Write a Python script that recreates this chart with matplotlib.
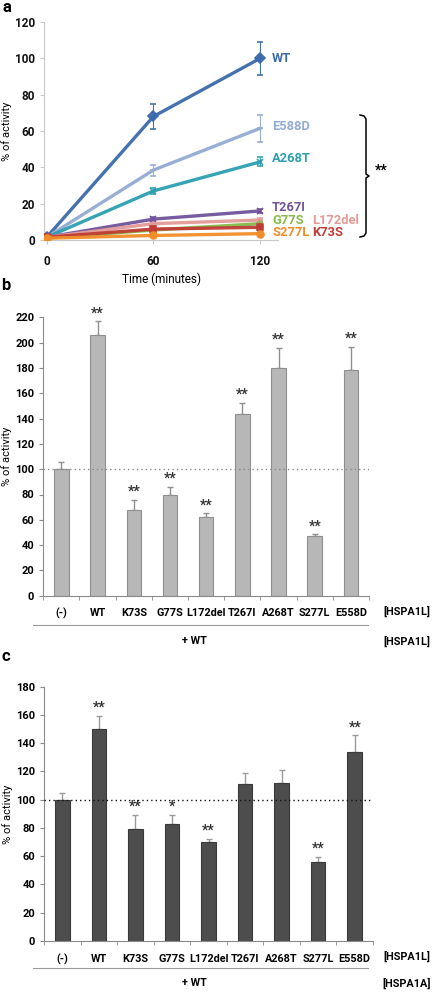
import matplotlib
matplotlib.use("Agg")
import matplotlib.pyplot as plt
import numpy as np

plt.rcParams.update({"font.family": ["Roboto", "DejaVu Sans"], "font.weight": "bold"})

W, H = 436, 992

# ---- panel a data ----
times = [0, 60, 120]
series = ["WT", "E588D", "A268T", "T267I", "L172del", "G77S", "K73S", "S277L"]
act = {
    "WT":      [1.5, 68, 100],
    "E588D":   [1.5, 38.5, 61.5],
    "A268T":   [1.5, 27, 43],
    "T267I":   [1.5, 11.5, 16],
    "L172del": [1.5, 9, 11],
    "G77S":    [1.0, 5.5, 9],
    "K73S":    [1.5, 6, 7],
    "S277L":   [1.0, 2.5, 3.5],
}
act_err = {
    "WT":      [0.5, 7, 9],
    "E588D":   [0.5, 3, 7.5],
    "A268T":   [0.5, 1.5, 2.5],
    "T267I":   [0.5, 1, 1],
    "L172del": [0.5, 1, 1],
    "G77S":    [0.5, 1, 1],
    "K73S":    [0.5, 1.5, 1.5],
    "S277L":   [0.5, 1, 1],
}
colors = {"WT": "#3b6aab", "E588D": "#93aad3", "A268T": "#2b9fb0", "T267I": "#70539c",
          "L172del": "#e29a96", "G77S": "#86ba4c", "K73S": "#bf3b35", "S277L": "#f28c28"}
markers = {"WT": "D", "E588D": "_", "A268T": "x", "T267I": "x", "L172del": "_",
           "G77S": "^", "K73S": "s", "S277L": "o"}

# ---- panels b / c data ----
cats = ["(-)", "WT", "K73S", "G77S", "L172del", "T267I", "A268T", "S277L", "E558D"]
b_vals = [100, 206, 68, 80, 62.5, 143.5, 180, 47, 178.5]
b_err = [6, 11, 8, 6, 2.5, 9, 16, 1.5, 18]
b_sig = ["", "**", "**", "**", "**", "**", "**", "**", "**"]
c_vals = [100, 150, 79.5, 83, 70, 111, 112, 56, 133.5]
c_err = [4.5, 9.5, 10, 6.5, 2.5, 8, 9, 3.5, 12]
c_sig = ["", "**", "**", "*", "**", "", "", "**", "**"]


def fx(px):
    return px / W


def fy(py):
    return 1 - py / H


fig = plt.figure(figsize=(W / 100, H / 100), dpi=100)
fig.patch.set_facecolor("white")

# ================= panel a =================
ax = fig.add_axes([fx(44), fy(240), fx(278) - fx(44), (240 - 22) / H])
for s in series:
    ax.errorbar(times, act[s], yerr=act_err[s], color=colors[s], lw=2.4, marker=markers[s],
                ms=5, mew=1.2, ecolor=colors[s], elinewidth=0.8, capsize=2, alpha=0.95,
                zorder=3 if s != "S277L" else 4)
ax.set_xlim(-1.5, 130)
ax.set_ylim(0, 120)
ax.set_xticks(times)
ax.set_yticks(range(0, 121, 20))
for sp in ("top", "right"):
    ax.spines[sp].set_visible(False)
ax.spines["left"].set_color("#c8c8c8")
ax.spines["bottom"].set_color("#c8c8c8")
ax.tick_params(axis="both", labelsize=8.5, colors="#111111", length=3, color="#c8c8c8")
ax.tick_params(axis="x", pad=8)
ax.set_ylabel("% of activity", fontsize=8, labelpad=2)
ax.set_xlabel("Time (minutes)", fontsize=8.5, labelpad=3)
fig.text(fx(2), fy(0), "a", fontsize=12, fontweight="bold", ha="left", va="top")

lab_pos = {"WT": (272, 58), "E588D": (272, 127), "A268T": (272, 158), "T267I": (272, 207),
           "G77S": (272, 220), "L172del": (312, 220), "S277L": (272, 232), "K73S": (312, 232)}
for s, (px, py) in lab_pos.items():
    fig.text(fx(px), fy(py), s, color=colors[s], fontsize=9.3, fontweight="bold", va="center", ha="left")

# bracket
bx, by0, by1 = fx(366), fy(115), fy(237)
ym = (by0 + by1) / 2
fig.add_artist(plt.Line2D([bx - fx(6), bx - fx(2), bx, bx, bx + fx(3), bx, bx, bx - fx(2), bx - fx(6)],
                          [by0, by0 - 0.001, by0 - 0.004, ym + 0.002, ym, ym - 0.002, by1 + 0.004, by1 + 0.001, by1],
                          color="black", lw=1.1))
fig.text(fx(381), fy(171), "**", fontsize=10, fontweight="bold", ha="center", va="center")


def bar_panel(rect, vals, err, sig, ymax, face, edge, ecol, dotcol, label, bottom_lab, ypx):
    axb = fig.add_axes(rect)
    x = np.arange(len(cats))
    axb.bar(x, vals, width=0.4, color=face, edgecolor=edge, lw=0.8, zorder=2)
    axb.errorbar(x, vals, yerr=[np.zeros(len(err)), err], fmt="none", ecolor=ecol,
                 elinewidth=1.0, capsize=2.5, capthick=1.0, zorder=1)
    for xi, v, e, s in zip(x, vals, err, sig):
        if s:
            axb.text(xi, v + e + ymax * 0.004, s, ha="center", va="bottom", fontsize=10,
                     fontweight="bold", color="#333333")
    axb.axhline(100, color=dotcol, lw=1.0, ls=(0, (1, 2.2)), zorder=3)
    axb.set_xlim(-0.5, len(cats) - 0.5)
    axb.set_ylim(0, ymax)
    axb.set_yticks(range(0, ymax + 1, 20))
    axb.set_xticks(x)
    axb.set_xticklabels(cats)
    axb.set_xticks(np.arange(-0.5, len(cats), 1.0), minor=True)
    axb.tick_params(axis="x", which="major", length=0, pad=9, labelsize=7.8)
    axb.tick_params(axis="x", which="minor", length=3, color="#8a8a8a")
    axb.tick_params(axis="y", labelsize=8, length=3, color="#8a8a8a")
    for sp in ("top", "right"):
        axb.spines[sp].set_visible(False)
    axb.spines["left"].set_color("#8a8a8a")
    axb.spines["bottom"].set_color("#8a8a8a")
    axb.set_ylabel("% of activity", fontsize=8, labelpad=2)
    axb.text(-0.13, 1.1, label, transform=axb.transAxes, fontsize=12, fontweight="bold", ha="left")
    # tag labels and the "+ WT" line below
    lab_y, line_y, wt_y = ypx
    fig.text(fx(407), fy(lab_y), "[HSPA1L]", fontsize=7.8, fontweight="bold", ha="center", va="center")
    fig.add_artist(plt.Line2D([fx(33), fx(368)], [fy(line_y), fy(line_y)], color="#9a9a9a", lw=0.8))
    fig.text(fx(194), fy(wt_y), "+ WT", fontsize=7.8, fontweight="bold", ha="center", va="center")
    fig.text(fx(407), fy(wt_y), bottom_lab, fontsize=7.8, fontweight="bold", ha="center", va="center")
    return axb


bar_panel([fx(43.3), fy(595.7), fx(369) - fx(43.3), (595.7 - 317.4) / H], b_vals, b_err, b_sig, 220,
          "#b7b7b7", "#8f8f8f", "#8f8f8f", "#8a8a8a", "b", "[HSPA1L]", (611.5, 625, 641))
bar_panel([fx(44), fy(941), fx(373) - fx(44), (941 - 686.7) / H], c_vals, c_err, c_sig, 180,
          "#4d4d4d", "#3a3a3a", "#9a9a9a", "#111111", "c", "[HSPA1A]", (956, 968, 983))

fig.savefig("out.png", dpi=100, facecolor="white")
